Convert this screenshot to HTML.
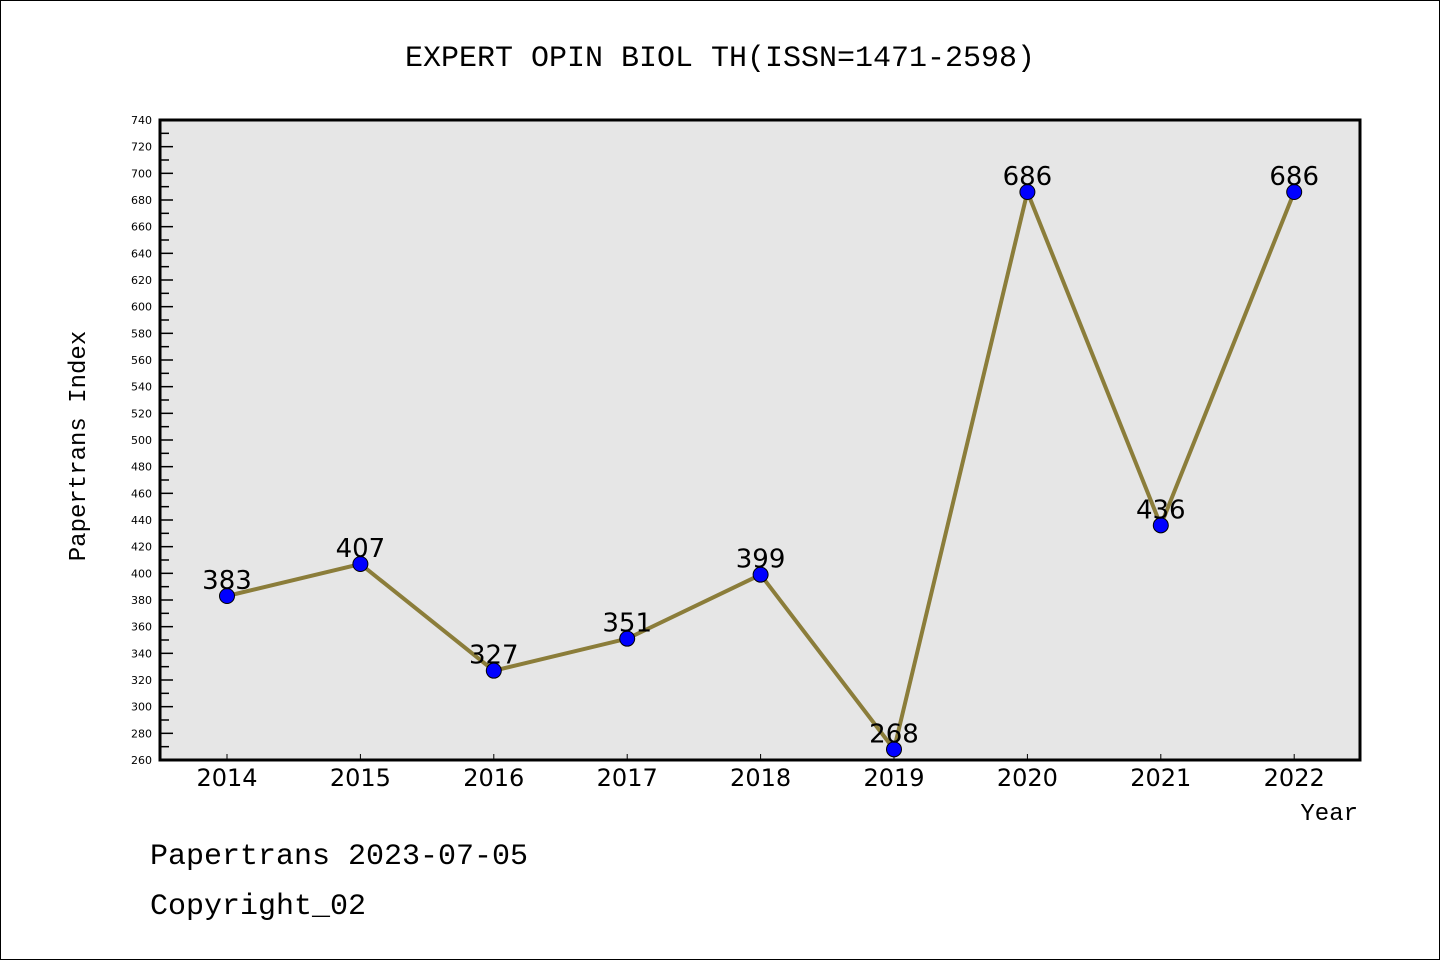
<!DOCTYPE html>
<html><head><meta charset="utf-8"><style>
html,body{margin:0;padding:0;background:#fff;}
svg{display:block;font-family:"Liberation Mono","WenQuanYi Zen Hei",monospace;}
</style></head><body>
<svg id="chart" width="1440" height="960">
<rect x="0.5" y="0.5" width="1439" height="959" fill="#fff" stroke="#000"/>
<text x="720" y="66" font-size="30" text-anchor="middle">EXPERT OPIN BIOL TH(ISSN=1471-2598)</text>
<rect x="160" y="120" width="1200" height="640" fill="#e6e6e6"/>
<g id="yaxis"></g><g id="xaxis"></g><g id="series"></g>
<rect x="160" y="120" width="1200" height="640" fill="none" stroke="#000" stroke-width="3"/>
<text x="85" y="446" font-size="24" text-anchor="middle" transform="rotate(-90 85 446)">Papertrans Index</text>
<text x="1358" y="820" font-size="24" text-anchor="end">Year</text>
<text x="150" y="864" font-size="30">Papertrans 2023-07-05</text>
<text x="150" y="914" font-size="30">Copyright_02</text>
</svg>
<script>
const years=["2014","2015","2016","2017","2018","2019","2020","2021","2022"];
const values=[383,407,327,351,399,268,686,436,686];
const yTicks=[260,280,300,320,340,360,380,400,420,440,460,480,500,520,540,560,580,600,620,640,660,680,700,720,740];
const NS="http://www.w3.org/2000/svg";
function y(v){return 760-(v-260)*640/480;}
function x(i){return 227+i*133.4;}
function mk(t,a,p){const e=document.createElementNS(NS,t);for(const k in a)e.setAttribute(k,a[k]);p.appendChild(e);return e;}
const ya=document.getElementById('yaxis');
yTicks.forEach(v=>{
  const l=mk('line',{x1:160,x2:173,y1:y(v),y2:y(v),stroke:'#000','stroke-width':1.5},ya);
  
  
  const t=mk('text',{x:152,y:y(v)+4,'font-size':11,'text-anchor':'end','font-family':'DejaVu Sans, sans-serif'},ya);
  t.textContent=v;
  
  
  if(v<740){const m=mk('line',{x1:160,x2:169,y1:y(v+10),y2:y(v+10),stroke:'#000','stroke-width':1.5},ya);
  
  }
});
const xa=document.getElementById('xaxis');
years.forEach((yr,i)=>{
  const l=mk('line',{x1:x(i),x2:x(i),y1:760,y2:754,stroke:'#000','stroke-width':1},xa);
  
  
  const t=mk('text',{x:x(i),y:786,'font-size':24,'text-anchor':'middle','font-family':'DejaVu Sans, sans-serif'},xa);
  t.textContent=yr;
  
  
});
const s=document.getElementById('series');
const line=mk('polyline',{points:values.map((v,i)=>x(i)+','+y(v)).join(' '),fill:'none',stroke:'#8b7d3a','stroke-width':4},s);


values.forEach((v,i)=>{
  const c=mk('circle',{cx:x(i),cy:y(v),r:7.5,fill:'#0000ff',stroke:'#000','stroke-width':1},s);
  
  
  const t=mk('text',{x:x(i),y:y(v)-7,'font-size':26,'text-anchor':'middle','font-family':'DejaVu Sans, sans-serif'},s);
  t.textContent=v;
  
  
});
</script>
</body></html>
